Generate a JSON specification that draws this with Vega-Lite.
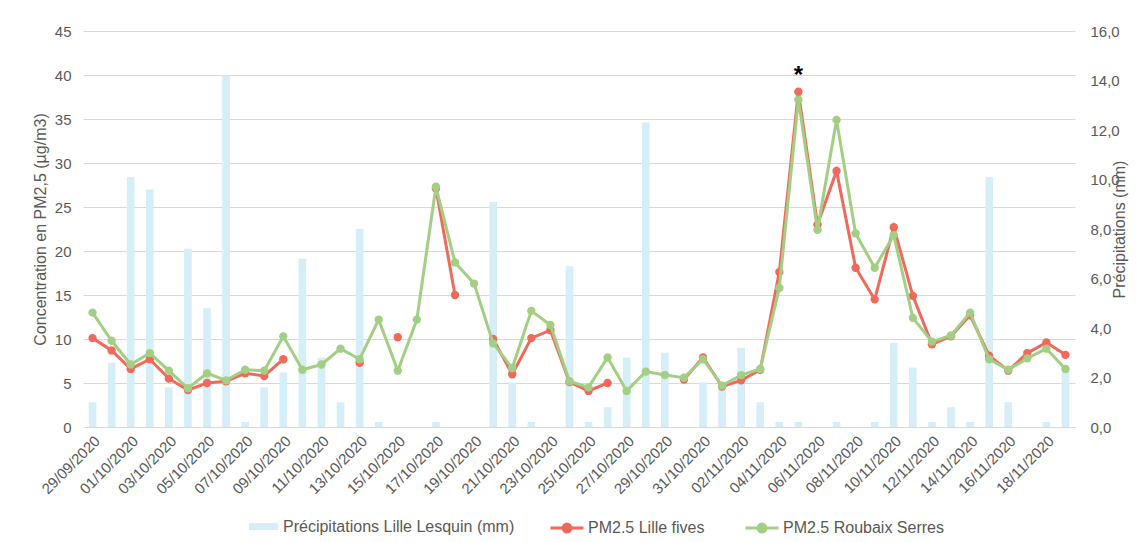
{
  "$schema": "https://vega.github.io/schema/vega-lite/v6.json",
  "width": 992,
  "height": 396,
  "autosize": {"type": "none"},
  "padding": {"left": 83, "top": 31, "right": 72, "bottom": 115},
  "background": "white",
  "config": {
    "font": "Liberation Sans",
    "view": {"stroke": null},
    "axis": {
      "labelColor": "#595959",
      "titleColor": "#595959",
      "labelFont": "Liberation Sans",
      "titleFont": "Liberation Sans",
      "labelFontSize": 15,
      "titleFontSize": 16,
      "titleFontWeight": "normal"
    },
    "legend": {
      "labelFont": "Liberation Sans",
      "labelFontSize": 16,
      "labelColor": "#595959",
      "labelLimit": 0,
      "direction": "horizontal",
      "padding": 0,
      "title": null
    }
  },
  "data": {
    "values": [
      {"date": "29/09/2020", "precip": 1.0, "lille": 10.1, "roubaix": 13.0},
      {"date": "30/09/2020", "precip": 2.6, "lille": 8.7, "roubaix": 9.8},
      {"date": "01/10/2020", "precip": 10.1, "lille": 6.6, "roubaix": 7.1},
      {"date": "02/10/2020", "precip": 9.6, "lille": 7.7, "roubaix": 8.4},
      {"date": "03/10/2020", "precip": 1.6, "lille": 5.5, "roubaix": 6.4},
      {"date": "04/10/2020", "precip": 7.2, "lille": 4.2, "roubaix": 4.4},
      {"date": "05/10/2020", "precip": 4.8, "lille": 5.0, "roubaix": 6.1},
      {"date": "06/10/2020", "precip": 14.2, "lille": 5.2, "roubaix": 5.3},
      {"date": "07/10/2020", "precip": 0.2, "lille": 6.1, "roubaix": 6.5},
      {"date": "08/10/2020", "precip": 1.6, "lille": 5.8, "roubaix": 6.4},
      {"date": "09/10/2020", "precip": 2.2, "lille": 7.7, "roubaix": 10.3},
      {"date": "10/10/2020", "precip": 6.8, "lille": null, "roubaix": 6.5},
      {"date": "11/10/2020", "precip": 2.8, "lille": null, "roubaix": 7.1},
      {"date": "12/10/2020", "precip": 1.0, "lille": null, "roubaix": 8.9},
      {"date": "13/10/2020", "precip": 8.0, "lille": 7.3, "roubaix": 7.7},
      {"date": "14/10/2020", "precip": 0.2, "lille": null, "roubaix": 12.2},
      {"date": "15/10/2020", "precip": 0, "lille": 10.2, "roubaix": 6.4},
      {"date": "16/10/2020", "precip": 0, "lille": null, "roubaix": 12.2},
      {"date": "17/10/2020", "precip": 0.2, "lille": 27.1, "roubaix": 27.3},
      {"date": "18/10/2020", "precip": 0, "lille": 15.0, "roubaix": 18.7},
      {"date": "19/10/2020", "precip": 0, "lille": null, "roubaix": 16.3},
      {"date": "20/10/2020", "precip": 9.1, "lille": 10.0, "roubaix": 9.5},
      {"date": "21/10/2020", "precip": 1.8, "lille": 6.0, "roubaix": 6.7},
      {"date": "22/10/2020", "precip": 0.2, "lille": 10.1, "roubaix": 13.2},
      {"date": "23/10/2020", "precip": 0, "lille": 11.0, "roubaix": 11.6},
      {"date": "24/10/2020", "precip": 6.5, "lille": 5.1, "roubaix": 5.2},
      {"date": "25/10/2020", "precip": 0.2, "lille": 4.1, "roubaix": 4.5},
      {"date": "26/10/2020", "precip": 0.8, "lille": 5.0, "roubaix": 7.9},
      {"date": "27/10/2020", "precip": 2.8, "lille": null, "roubaix": 4.1},
      {"date": "28/10/2020", "precip": 12.3, "lille": null, "roubaix": 6.3},
      {"date": "29/10/2020", "precip": 3.0, "lille": null, "roubaix": 5.9},
      {"date": "30/10/2020", "precip": 0, "lille": 5.4, "roubaix": 5.6},
      {"date": "31/10/2020", "precip": 1.8, "lille": 7.9, "roubaix": 7.7},
      {"date": "01/11/2020", "precip": 1.8, "lille": 4.6, "roubaix": 4.7},
      {"date": "02/11/2020", "precip": 3.2, "lille": 5.3, "roubaix": 5.9},
      {"date": "03/11/2020", "precip": 1.0, "lille": 6.5, "roubaix": 6.6},
      {"date": "04/11/2020", "precip": 0.2, "lille": 17.6, "roubaix": 15.8},
      {"date": "05/11/2020", "precip": 0.2, "lille": 38.1, "roubaix": 37.2, "note": "*"},
      {"date": "06/11/2020", "precip": 0, "lille": 23.0, "roubaix": 22.4},
      {"date": "07/11/2020", "precip": 0.2, "lille": 29.1, "roubaix": 34.9},
      {"date": "08/11/2020", "precip": 0, "lille": 18.1, "roubaix": 22.0},
      {"date": "09/11/2020", "precip": 0.2, "lille": 14.5, "roubaix": 18.1},
      {"date": "10/11/2020", "precip": 3.4, "lille": 22.7, "roubaix": 21.8},
      {"date": "11/11/2020", "precip": 2.4, "lille": 14.9, "roubaix": 12.4},
      {"date": "12/11/2020", "precip": 0.2, "lille": 9.4, "roubaix": 9.7},
      {"date": "13/11/2020", "precip": 0.8, "lille": 10.3, "roubaix": 10.4},
      {"date": "14/11/2020", "precip": 0.2, "lille": 12.7, "roubaix": 13.0},
      {"date": "15/11/2020", "precip": 10.1, "lille": 8.1, "roubaix": 7.7},
      {"date": "16/11/2020", "precip": 1.0, "lille": 6.4, "roubaix": 6.5},
      {"date": "17/11/2020", "precip": 0, "lille": 8.4, "roubaix": 7.8},
      {"date": "18/11/2020", "precip": 0.2, "lille": 9.6, "roubaix": 8.9},
      {"date": "19/11/2020", "precip": 2.4, "lille": 8.2, "roubaix": 6.6}
    ]
  },
  "encoding": {
    "x": {
      "field": "date",
      "type": "ordinal",
      "sort": null,
      "scale": {"paddingInner": 0.6, "paddingOuter": 0.3},
      "axis": {
        "title": null,
        "labelAngle": -45,
        "ticks": false,
        "grid": false,
        "domain": true,
        "domainColor": "#d9d9d9",
        "labelPadding": 6,
        "values": ["29/09/2020", "01/10/2020", "03/10/2020", "05/10/2020", "07/10/2020", "09/10/2020", "11/10/2020", "13/10/2020", "15/10/2020", "17/10/2020", "19/10/2020", "21/10/2020", "23/10/2020", "25/10/2020", "27/10/2020", "29/10/2020", "31/10/2020", "02/11/2020", "04/11/2020", "06/11/2020", "08/11/2020", "10/11/2020", "12/11/2020", "14/11/2020", "16/11/2020", "18/11/2020"]
      }
    }
  },
  "layer": [
    {
      "mark": {"type": "bar"},
      "encoding": {
        "y": {
          "field": "precip",
          "type": "quantitative",
          "scale": {"domain": [0, 16], "nice": false},
          "axis": {
            "orient": "right",
            "title": "Précipitations (mm)",
            "titleAngle": -90,
            "titlePadding": 8,
            "values": [0, 2, 4, 6, 8, 10, 12, 14, 16],
            "labelExpr": "replace(format(datum.value, '.1f'), '.', ',')",
            "grid": false,
            "domain": false,
            "ticks": false,
            "labelPadding": 15
          }
        },
        "fill": {
          "datum": "Précipitations Lille Lesquin (mm)",
          "scale": {"range": ["#d6eef7"]},
          "legend": {
            "orient": "none",
            "legendX": 166,
            "legendY": 481,
            "symbolType": "M-1,-0.24H1V0.24H-1Z",
            "symbolSize": 841,
            "symbolStrokeWidth": 0,
            "labelOffset": 5
          }
        }
      }
    },
    {
      "encoding": {
        "y": {
          "type": "quantitative",
          "scale": {"domain": [0, 45], "nice": false},
          "axis": {
            "orient": "left",
            "title": "Concentration en PM2,5 (µg/m3)",
            "titlePadding": 6,
            "values": [0, 5, 10, 15, 20, 25, 30, 35, 40, 45],
            "grid": true,
            "gridColor": "#d9d9d9",
            "domain": false,
            "ticks": false,
            "labelPadding": 12
          }
        }
      },
      "layer": [
        {
          "mark": {"type": "line", "strokeWidth": 3, "invalid": "break-paths-filter-domains", "point": {"filled": true, "size": 70}},
          "encoding": {
            "y": {"field": "lille", "type": "quantitative"},
            "color": {
              "datum": "PM2.5 Lille fives",
              "scale": {"domain": ["PM2.5 Lille fives", "PM2.5 Roubaix Serres"], "range": ["#f0695a", "#a3cf84"]},
              "legend": {
                "orient": "none",
                "legendX": 466,
                "legendY": 479,
                "symbolType": "M-1,0H1M-0.24,0A0.24,0.24,0,1,0,0.24,0A0.24,0.24,0,1,0,-0.24,0",
                "symbolSize": 1089,
                "symbolStrokeWidth": 3,
                "labelOffset": 3,
                "columnPadding": 34
              }
            }
          }
        },
        {
          "mark": {"type": "line", "strokeWidth": 3, "invalid": "break-paths-filter-domains", "point": {"filled": true, "size": 70}},
          "encoding": {
            "y": {"field": "roubaix", "type": "quantitative"},
            "color": {"datum": "PM2.5 Roubaix Serres"}
          }
        },
        {
          "transform": [{"filter": "datum.note"}],
          "mark": {"type": "text", "fontSize": 24, "fontWeight": "bold", "color": "black", "dy": -16, "baseline": "middle"},
          "encoding": {
            "y": {"field": "lille", "type": "quantitative"},
            "text": {"field": "note"}
          }
        }
      ]
    }
  ],
  "resolve": {"scale": {"y": "independent"}}
}
